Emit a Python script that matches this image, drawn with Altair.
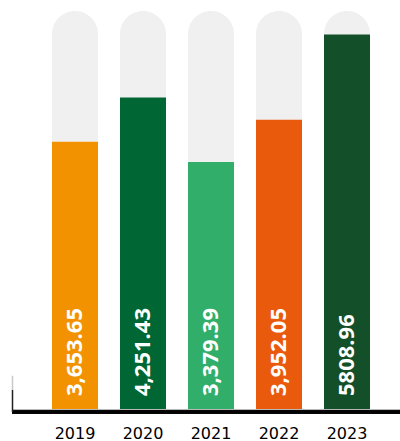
import altair as alt
import pandas as pd

years = ["2019", "2020", "2021", "2022", "2023"]
bar_values = [3653.65, 4251.43, 3379.39, 3952.05, 5105]
labels = ["3,653.65", "4,251.43", "3,379.39", "3,952.05", "5808.96"]
colors = ["#F39200", "#006634", "#31AE6A", "#E95A0C", "#134F28"]
bg_value = 5420
y_max = 5570

df = pd.DataFrame({"year": years, "value": bar_values, "label": labels,
                   "bg": [bg_value] * len(years), "zero": [0] * len(years)})

# left corner tick of the frame, in data units (fading upward)
tick_df = pd.DataFrame({"lo": [0, 300], "hi": [300, 490], "c": ["#202020", "#c8c8c8"]})

xscale = alt.Scale(domain=years, paddingInner=0.3235, paddingOuter=0.441)
yscale = alt.Scale(domain=[0, y_max], nice=False, zero=True)

x_axis = alt.Axis(domain=False, ticks=False, labelAngle=0, labelFontSize=16,
                  labelFont="DejaVu Sans", labelColor="#000000", labelPadding=13)

bg = alt.Chart(df).mark_bar(color="#F0F0F0", cornerRadiusTopLeft=23, cornerRadiusTopRight=23).encode(
    x=alt.X("year:N", scale=xscale, title=None, axis=x_axis),
    y=alt.Y("bg:Q", scale=yscale, axis=None),
)

bars = alt.Chart(df).mark_bar().encode(
    x=alt.X("year:N", scale=xscale, title=None, axis=x_axis),
    y=alt.Y("value:Q", scale=yscale, axis=None),
    color=alt.Color("year:N", scale=alt.Scale(domain=years, range=colors), legend=None),
)

text = alt.Chart(df).mark_text(angle=270, align="left", baseline="middle", dx=16,
                               font="Open Sans", fontWeight="bold", fontSize=22,
                               color="white").encode(
    x=alt.X("year:N", scale=xscale, title=None, axis=x_axis),
    y=alt.Y("zero:Q", scale=yscale, axis=None),
    text="label:N",
)

shadow = alt.Chart(df).mark_rule(color="#b8b8b8", strokeWidth=1).encode(
    x=alt.value(-10), x2=alt.value(378), y=alt.value(409.5))

baseline = alt.Chart(df).mark_rule(color="#000000", strokeWidth=3).encode(
    x=alt.value(-10), x2=alt.value(378), y=alt.value(412))

left_tick = alt.Chart(tick_df).mark_rule(strokeWidth=1.5).encode(
    x=alt.value(-9.5),
    y=alt.Y("lo:Q", scale=yscale, axis=None),
    y2="hi:Q",
    color=alt.Color("c:N", scale=None),
)

chart = alt.layer(bg, bars, text, shadow, baseline, left_tick).properties(
    width=378, height=412,
    background="white",
    autosize=alt.AutoSizeParams(type="none"),
    padding={"left": 22, "top": 0, "right": 0, "bottom": 29},
).resolve_scale(color="independent").configure_view(stroke=None)

chart.save("out.html", embed_options={"renderer": "svg", "actions": False})
